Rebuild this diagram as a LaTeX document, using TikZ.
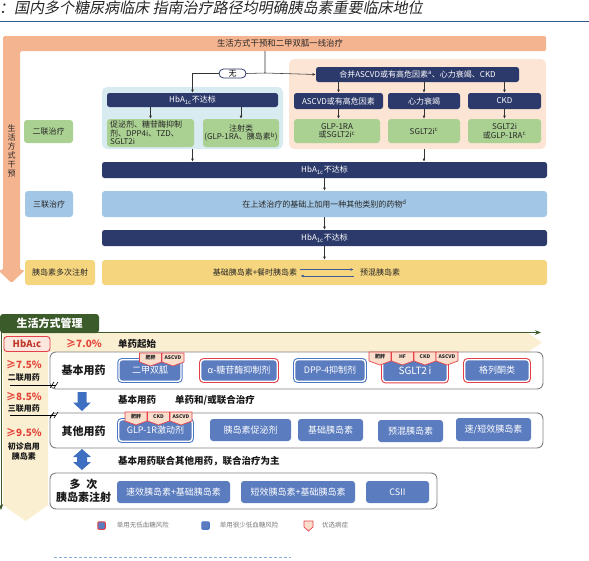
\documentclass[tikz,border=0pt]{standalone}
\usepackage{fontspec}
\setmainfont{Noto Sans CJK SC}
\newfontfamily\titlefont[FakeSlant=0.2]{Noto Sans CJK SC}
\usetikzlibrary{arrows.meta,positioning}
\definecolor{TitleRule}{HTML}{2E5C8A}
\definecolor{BandOrange}{HTML}{F4B490}
\definecolor{DeepNavy}{HTML}{2C3A6B}
\definecolor{PanelBlue}{HTML}{D7EBF1}
\definecolor{StepBlue}{HTML}{A2C6E5}
\definecolor{StepGreen}{HTML}{AAD192}
\definecolor{PanelPeach}{HTML}{FCE5D5}
\definecolor{StepYellow}{HTML}{F6D57F}
\definecolor{TradeBlue}{HTML}{3D5A99}
\definecolor{ManageGreen}{HTML}{3C5B2A}
\definecolor{Cream}{HTML}{FBEFD2}
\definecolor{DrugBlue}{HTML}{5B7CBF}
\definecolor{RimRed}{HTML}{E5404A}
\definecolor{RimBlue}{HTML}{4A78C8}
\definecolor{ArrowBlue}{HTML}{3F6FC0}
\definecolor{HintRed}{HTML}{E2453A}
\definecolor{KeyRed}{HTML}{C0392B}
\definecolor{KeyPink}{HTML}{FCE6DE}
\definecolor{BadgePink}{HTML}{FBDDCB}
\definecolor{FrameGray}{HTML}{808080}
\definecolor{LegendGray}{HTML}{7A7A7A}
\definecolor{DashBlue}{HTML}{8AAEDC}

% red shield tag: name, x centre, top y, text
\newcommand{\badge}[4]{%
  \draw[badgeline] (#2-11,#3) -- (#2+11,#3) -- (#2+11,#3+9) -- (#2,#3+13) -- (#2-11,#3+9) -- cycle;
  \node[badgetext] (#1) at (#2,#3+5) {#4};}

\begin{document}
\begin{tikzpicture}[
    x=1pt,y=-1pt,
    >={Latex[length=3.2pt,width=2.8pt]},
    font=\fontsize{8}{8.5}\selectfont,
    flow/.style={->,line width=0.55pt,draw=black!80},
    panel/.style={rounded corners=5pt,inner sep=0pt},
    navybox/.style={fill=DeepNavy,text=white,rounded corners=2.5pt,inner sep=0pt,align=center},
    stepbox/.style={rounded corners=3pt,inner sep=0pt,align=center,text=black!85},
    pill/.style={draw=DeepNavy,fill=white,line width=0.8pt,rounded corners=4.5pt,inner sep=0pt,minimum width=27pt,minimum height=9pt},
    trade/.style={->,line width=0.6pt,draw=TradeBlue},
    rowframe/.style={draw=FrameGray,line width=0.9pt,fill=white,rounded corners=6pt,inner sep=0pt},
    rowlabel/.style={font=\fontsize{11}{13}\selectfont\bfseries,text=black!90,align=center,inner sep=0pt},
    drug/.style={fill=DrugBlue,text=white,rounded corners=3pt,inner sep=0pt,font=\fontsize{9}{10}\selectfont},
    rim/.style={preaction={draw=#1,line width=3.4pt},draw=white,line width=1.4pt},
    badgeline/.style={draw=RimRed,fill=BadgePink,line width=0.7pt,line join=round},
    badgetext/.style={font=\fontsize{5}{5}\selectfont\bfseries,text=black!85,inner sep=0pt},
    hint/.style={font=\fontsize{10}{11}\selectfont\bfseries,text=HintRed,inner sep=0pt},
    tiertext/.style={font=\fontsize{8}{9}\selectfont\bfseries,text=black!90,inner sep=0pt,align=center},
    midtext/.style={font=\fontsize{9.5}{11}\selectfont\bfseries,text=black!90,inner sep=0pt},
    legsq/.style={fill=DrugBlue,minimum size=7.5pt,inner sep=0pt,line width=1pt,rounded corners=1pt},
    legtext/.style={font=\fontsize{6.5}{7}\selectfont,text=LegendGray,inner sep=0pt}
  ]
  \useasboundingbox (0,0) rectangle (589,560);

  % caption
  \node[anchor=west,inner sep=0pt,text=black!85,font={\titlefont\fontsize{15}{17}\selectfont}] (title) at (-1,8) {：国内多个糖尿病临床 指南治疗路径均明确胰岛素重要临床地位};
  \draw[TitleRule,line width=1.3pt] (0,21.5) -- (589,21.5);

  % ---- upper chart ----
  \fill[BandOrange,rounded corners=1.5pt] (3,36) -- (546,36) -- (546,51) -- (20,51) -- (20,270) -- (25,270) -- (11.5,283) -- (-2,270) -- (3,270) -- cycle;
  \node[text=black!85,font=\fontsize{8.4}{9}\selectfont] (bandtitle) at (280,43.5) {生活方式干预和二甲双胍一线治疗};
  \node[text=black!85,align=center,font=\fontsize{8}{9}\selectfont] (bandside) at (11.5,151) {生\\活\\方\\式\\干\\预};
  \coordinate (bandfoot) at (265,51);
  \coordinate (split) at (265,73);

  \node[panel,fill=PanelBlue,minimum width=181pt,minimum height=62pt] (leftpanel) at (192.5,118) {};
  \node[panel,fill=PanelPeach,minimum width=257pt,minimum height=90pt] (rightpanel) at (417.5,104) {};

  \node[pill] (nonebox) at (232.5,73.5) {无};
  \node[navybox,minimum width=171pt,minimum height=14pt] (hbaA) at (192.5,100) {HbA\textsubscript{1c}不达标};
  \node[stepbox,fill=StepGreen,minimum width=87pt,minimum height=28pt,text width=81pt,align=left] (oralbox) at (150.5,133) {促泌剂、糖苷酶抑制\\剂、DPP4i、TZD、\\SGLT2i};
  \node[stepbox,fill=StepGreen,minimum width=76pt,minimum height=28pt] (injbox) at (241,133) {注射类\\(GLP-1RA、胰岛素\textsuperscript{b})};

  \node[navybox,minimum width=203pt,minimum height=15pt] (combo) at (417.5,74.5) {合并ASCVD或有高危因素\textsuperscript{a}、心力衰竭、CKD};
  \node[navybox,minimum width=89pt,minimum height=16pt] (ascvd) at (338.5,101) {ASCVD或有高危因素};
  \node[navybox,minimum width=72pt,minimum height=16pt] (hfail) at (424,101) {心力衰竭};
  \node[navybox,minimum width=73pt,minimum height=16pt] (ckd) at (504.5,101) {CKD};
  \node[stepbox,fill=StepGreen,minimum width=86pt,minimum height=24pt] (ascvdrx) at (337,131) {GLP-1RA\\或SGLT2i\textsuperscript{c}};
  \node[stepbox,fill=StepGreen,minimum width=72pt,minimum height=24pt] (hfrx) at (424,131) {SGLT2i\textsuperscript{c}};
  \node[stepbox,fill=StepGreen,minimum width=73pt,minimum height=24pt] (ckdrx) at (504.5,131) {SGLT2i\\或GLP-1RA\textsuperscript{c}};

  \node[navybox,minimum width=445pt,minimum height=16pt] (hbaB) at (324.5,170) {HbA\textsubscript{1c}不达标};
  \node[stepbox,fill=StepBlue,minimum width=445pt,minimum height=26pt] (tripleadd) at (324.5,204) {在上述治疗的基础上加用一种其他类别的药物\textsuperscript{d}};
  \node[navybox,minimum width=445pt,minimum height=16pt] (hbaC) at (324.5,238) {HbA\textsubscript{1c}不达标};
  \node[stepbox,fill=StepYellow,minimum width=445pt,minimum height=25pt] (insbar) at (324.5,272.5) {};
  \node[inner sep=3pt,text=black!85] (basalbolus) at (255,272.5) {基础胰岛素+餐时胰岛素};
  \node[inner sep=6pt,text=black!85] (premix) at (380,272.5) {预混胰岛素};

  \node[stepbox,fill=StepGreen,minimum width=49pt,minimum height=23pt] (dual) at (48.5,131.5) {二联治疗};
  \node[stepbox,fill=StepBlue,minimum width=48pt,minimum height=26pt] (triple) at (49,204) {三联治疗};
  \node[stepbox,fill=StepYellow,minimum width=70pt,minimum height=25pt] (multi) at (60,272.5) {胰岛素多次注射};

  \draw[flow,-] (bandfoot) -- (split) -- (nonebox.east);
  \draw[flow] (nonebox.west) -| (hbaA.north);
  \draw[flow] (split) -- (combo.west);
  \draw[flow] (oralbox.north |- hbaA.south) -- (oralbox.north);
  \draw[flow] (injbox.north |- hbaA.south) -- (injbox.north);
  \foreach \d/\r in {ascvd/ascvdrx,hfail/hfrx,ckd/ckdrx} {
    \draw[flow] (\d.north |- combo.south) -- (\d.north);
    \draw[flow] (\d.south) -- (\d.south |- \r.north);
  }
  \draw[flow] (leftpanel.south) -- (leftpanel.south |- hbaB.north);
  \draw[flow] (hfail.south |- rightpanel.south) -- (hfail.south |- hbaB.north);
  \draw[flow] (hbaB) -- (tripleadd);
  \draw[flow] (tripleadd) -- (hbaC);
  \draw[flow] (hbaC) -- (insbar);
  \draw[trade] ([yshift=3pt]basalbolus.east) -- ([yshift=3pt]premix.west);
  \draw[trade] ([yshift=-3.5pt]premix.west) -- ([yshift=-3.5pt]basalbolus.east);

  % ---- lower chart ----
  \fill[Cream] (3,333) -- (528,333) -- (542,342.5) -- (528,352) -- (48,352) -- (48,505) -- (25.5,521) -- (3,505) -- cycle;
  \draw[ManageGreen,line width=0.8pt,-{Stealth[length=6pt,width=4.5pt]}] (1,332.5) -- (541,332.5);
  \draw[ManageGreen,line width=0.8pt,-{Stealth[length=6pt,width=4.5pt]}] (1,332.5) -- (1,510);
  \node[fill=ManageGreen,text=white,font=\fontsize{11}{12}\selectfont\bfseries,minimum width=99pt,minimum height=19pt,rounded corners=3pt,inner sep=0pt] (manage) at (49.5,323.5) {生活方式管理};

  \node[draw=RimRed,fill=KeyPink,line width=0.9pt,rounded corners=3pt,minimum width=46pt,minimum height=15pt,inner sep=0pt,text=KeyRed,font=\fontsize{9.5}{10}\selectfont\bfseries] (hbakey) at (27,344) {HbA{\fontsize{6}{6}\selectfont 1}c};
  \node[hint] (lv70) at (84,343.5) {≥7.0\%};
  \node[midtext] (mono) at (137,343.5) {单药起始};

  \node[hint] (lv75) at (24,365) {≥7.5\%};
  \node[tiertext] (lv75t) at (24,377.5) {二联用药};
  \node[hint] (lv85) at (24,397) {≥8.5\%};
  \node[tiertext] (lv85t) at (24,409) {三联用药};
  \node[hint] (lv95) at (24,433) {≥9.5\%};
  \node[tiertext,font=\fontsize{8}{10}\selectfont\bfseries] (lv95t) at (24,451) {初诊启用\\胰岛素};

  \node[rowframe,minimum width=493pt,minimum height=37pt] (basicrow) at (296.5,370.5) {};
  \node[rowframe,minimum width=493pt,minimum height=35pt] (otherrow) at (296.5,430.5) {};
  \node[rowframe,minimum width=387pt,minimum height=36pt] (insrow) at (243.5,491) {};

  \draw[black,line width=0.7pt] (10,385) -- (56,385);
  \draw[black,line width=0.6pt] (50,388) -- (54,382) (54,388) -- (58,382);
  \draw[black,line width=0.7pt] (10,415) -- (56,415);
  \draw[black,line width=0.6pt] (50,418) -- (54,412) (54,418) -- (58,412);

  \node[rowlabel] (basiclbl) at (83.5,370.5) {基本用药};
  \node[rowlabel] (otherlbl) at (83.5,431) {其他用药};
  \node[rowlabel] (inslbl) at (83.5,491) {多\hspace{6pt}次\\胰岛素注射};

  \node[drug,rim=RimBlue,minimum width=62pt,minimum height=21.5pt] (metformin) at (150,370.5) {二甲双胍};
  \node[drug,rim=RimRed,minimum width=76.5pt,minimum height=21.5pt] (agi) at (239,370.5) {α-糖苷酶抑制剂};
  \node[drug,rim=RimBlue,minimum width=70.5pt,minimum height=21.5pt] (dpp4) at (330,370.5) {DPP-4抑制剂};
  \node[drug,rim=RimRed,minimum width=64.5pt,minimum height=21.5pt,font=\fontsize{10}{10}\selectfont] (sglt2) at (415,371) {SGLT2\,i};
  \node[drug,rim=RimRed,minimum width=64.5pt,minimum height=21.5pt] (tzd) at (497,370.5) {格列酮类};

  \node[drug,rim=RimBlue,minimum width=73.5pt,minimum height=21.5pt] (glp1) at (155.5,430.5) {GLP-1R激动剂};
  \node[drug,minimum width=81pt,minimum height=22pt] (secret) at (250.5,430) {胰岛素促泌剂};
  \node[drug,minimum width=65pt,minimum height=22pt] (basal) at (330.5,430) {基础胰岛素};
  \node[drug,minimum width=65pt,minimum height=22pt] (premixb) at (410.5,431) {预混胰岛素};
  \node[drug,minimum width=75pt,minimum height=23pt] (rapid) at (493.5,429.5) {速/短效胰岛素};

  \node[drug,minimum width=113pt,minimum height=22pt] (rapidbasal) at (173.5,492) {速效胰岛素+基础胰岛素};
  \node[drug,minimum width=114pt,minimum height=22pt] (shortbasal) at (298,492) {短效胰岛素+基础胰岛素};
  \node[drug,minimum width=63pt,minimum height=22pt] (csii) at (397.5,492) {CSII};

  \badge{mObese}{150.5}{353}{肥胖}
  \badge{mAscvd}{173}{353}{ASCVD}
  \badge{sObese}{380}{352}{肥胖}
  \badge{sHf}{402.5}{352}{HF}
  \badge{sCkd}{425}{352}{CKD}
  \badge{sAscvd}{447}{352}{ASCVD}
  \badge{gObese}{136}{412}{肥胖}
  \badge{gCkd}{158.5}{412}{CKD}
  \badge{gAscvd}{181}{412}{ASCVD}

  \fill[ArrowBlue] (77.5,392) -- (86.5,392) -- (86.5,402.5) -- (91,402.5) -- (82,411) -- (73,402.5) -- (77.5,402.5) -- cycle;
  \node[midtext,anchor=west] (basicnote) at (118,400) {基本用药};
  \node[midtext,anchor=west] (mixnote) at (175,400) {单药和/或联合治疗};
  \fill[ArrowBlue] (82,449) -- (91,457) -- (87,457) -- (87,462) -- (91,462) -- (82,470) -- (73,462) -- (77,462) -- (77,457) -- (73,457) -- cycle;
  \node[midtext,anchor=west] (jointnote) at (118,461) {基本用药联合其他用药，联合治疗为主};

  % legend
  \node[legsq,draw=RimRed] (legA) at (101.5,525.5) {};
  \node[legtext,right=11pt of legA] (legAtxt) {单用无低血糖风险};
  \node[legsq,draw=RimBlue] (legB) at (205.5,525.5) {};
  \node[legtext,right=10pt of legB] (legBtxt) {单用很少低血糖风险};
  \draw[badgeline] (304,521) -- (313,521) -- (313,527) -- (308.5,531) -- (304,527) -- cycle;
  \node[legtext,anchor=west] (legCtxt) at (322,525.5) {优选病症};

  \draw[DashBlue,line width=0.8pt,dash pattern=on 3pt off 2pt] (54,557) -- (291,557);
\end{tikzpicture}
\end{document}
